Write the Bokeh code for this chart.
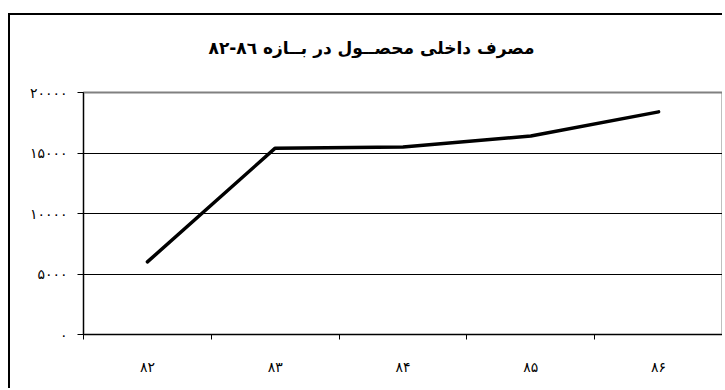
from bokeh.plotting import figure
from bokeh.models import FixedTicker, Title
from bokeh.embed import file_html
from bokeh.resources import INLINE

years = ["۸۲", "۸۳", "۸۴", "۸۵", "۸۶"]
consumption = [6000, 15400, 15500, 16400, 18400]
y_ticks = [0, 5000, 10000, 15000, 20000]
y_tick_labels = ["۰", "۵۰۰۰", "۱۰۰۰۰", "۱۵۰۰۰", "۲۰۰۰۰"]
title_text = "مصرف داخلی محصــول در بــازه  ٨٦-۸۲"

FONT = "DejaVu Sans"

xs = [i + 0.5 for i in range(len(years))]

p = figure(width=714, height=375, output_backend="svg", toolbar_location=None, title=None,
           x_range=(0, len(years)), y_range=(0, 20000),
           min_border_left=73, min_border_right=2, min_border_top=77, min_border_bottom=56)
p.styles = {"margin-left": "8px", "margin-top": "13px",
            "border-left": "2px solid black", "border-top": "2px solid black",
            "border-right": "none", "border-bottom": "none"}

# empty spacer panel between the plot area and the title
p.add_layout(Title(text=" ", text_font_size="1px", standoff=32), "above")
p.add_layout(Title(text=title_text, align="left", offset=125, standoff=0,
                   text_font=FONT, text_font_size="17px", text_font_style="bold",
                   text_color="black"), "above")

p.line(xs, consumption, line_color="black", line_width=3.5, line_join="round", line_cap="round")

# x axis
p.xaxis.ticker = FixedTicker(ticks=xs, minor_ticks=list(range(len(years) + 1)))
p.xaxis.major_label_overrides = {x: lab for x, lab in zip(xs, years)}
p.xaxis.major_tick_out = 0
p.xaxis.major_tick_in = 0
p.xaxis.minor_tick_out = 5
p.xaxis.minor_tick_in = 0
p.xaxis.minor_tick_line_color = "black"
p.xaxis.axis_line_color = "black"
p.xaxis.major_label_standoff = 19
p.xaxis.major_label_text_font = FONT
p.xaxis.major_label_text_font_size = "14px"
p.xaxis.major_label_text_color = "black"

# y axis
p.yaxis.ticker = FixedTicker(ticks=y_ticks, minor_ticks=[])
p.yaxis.major_label_overrides = {t: lab for t, lab in zip(y_ticks, y_tick_labels)}
p.yaxis.major_tick_out = 6
p.yaxis.major_tick_in = 0
p.yaxis.major_tick_line_color = "black"
p.yaxis.axis_line_color = "black"
p.yaxis.major_label_standoff = 10
p.yaxis.major_label_text_font = FONT
p.yaxis.major_label_text_font_size = "14px"
p.yaxis.major_label_text_color = "black"

p.xgrid.visible = False
p.ygrid.ticker = FixedTicker(ticks=y_ticks)
p.ygrid.grid_line_color = "black"
p.ygrid.grid_line_width = 1

p.outline_line_color = "#808080"
p.outline_line_width = 2
p.background_fill_color = "white"
p.border_fill_color = "white"

open("out.html", "w").write(file_html(p, INLINE))
